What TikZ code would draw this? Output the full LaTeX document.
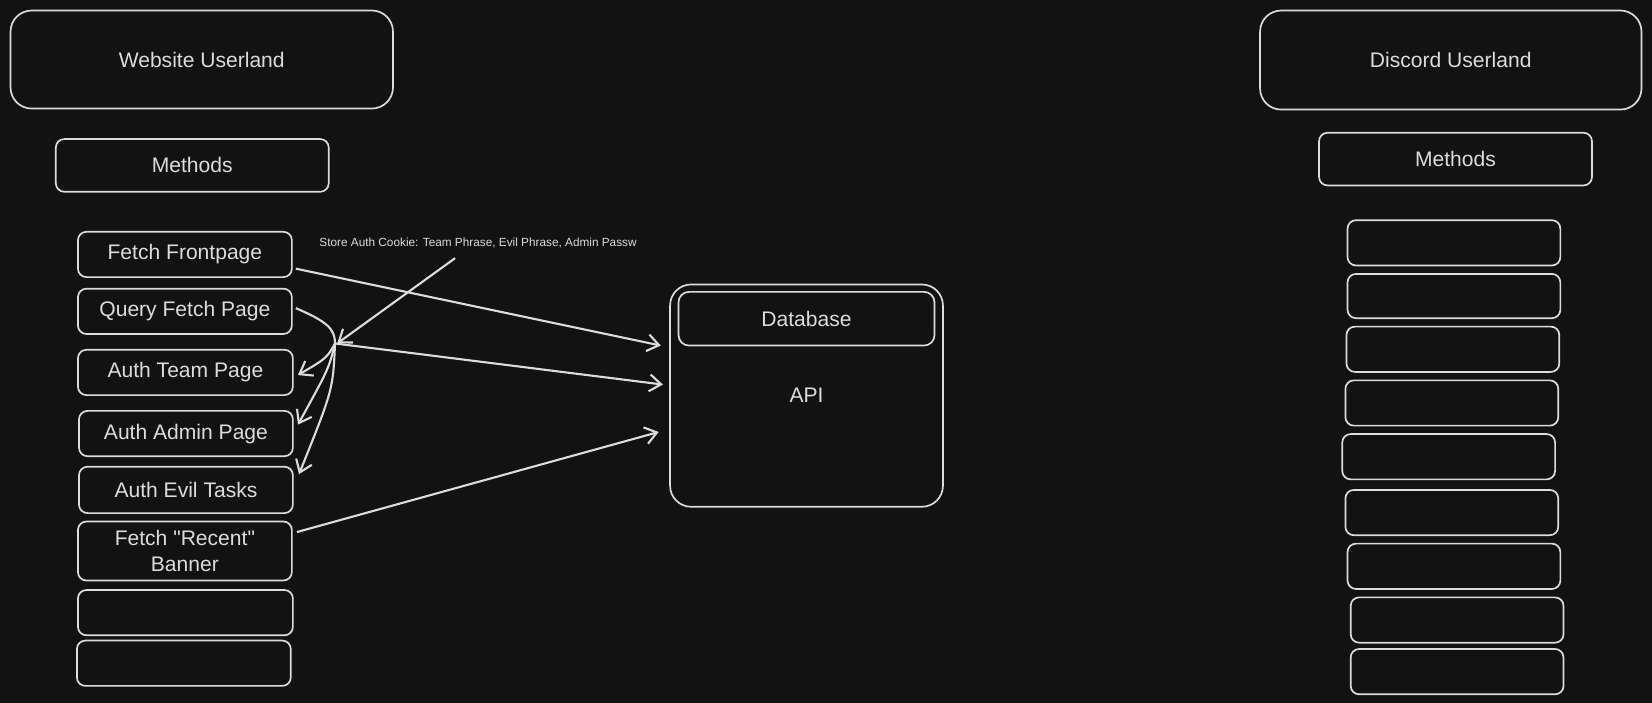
\documentclass[tikz,border=0pt]{standalone}
\usepackage{fontspec}
\setmainfont{Liberation Sans}
\usetikzlibrary{arrows.meta}
\definecolor{bg}{HTML}{121212}
\definecolor{ink}{HTML}{DCDCDC}
\tikzset{
  box/.style={draw=ink, line width=1.6pt, rounded corners=8pt, inner sep=0pt,
    text=ink, font=\fontsize{20}{24}\selectfont, align=center},
  bigbox/.style={box, rounded corners=20pt},
  conn/.style={draw=ink, line width=2pt, -{Straight Barb[length=11pt,width=16pt,line width=2pt]}},
  plain/.style={draw=ink, line width=2pt},
  lbl/.style={text=ink, font=\fontsize{11.2}{13}\selectfont, inner sep=0pt, anchor=west}
}
\begin{document}
\begin{tikzpicture}[x=1pt,y=-1pt]
\fill[bg] (0,0) rectangle (1568,667);
\useasboundingbox (0,0) rectangle (1568,667);
% left column
\node[bigbox, minimum width=363pt, minimum height=93pt] (wu) at (191.5,56.5) {Website Userland};
\node[box, minimum width=259pt, minimum height=50pt] (ml) at (182.5,157) {Methods};
\node[box, minimum width=203pt, minimum height=43pt] (ff) at (175.5,241.5) {Fetch Frontpage};
\node[box, minimum width=203pt, minimum height=43pt] (qfp) at (175.5,295.5) {Query Fetch Page};
\node[box, minimum width=204pt, minimum height=43pt] (team) at (176,353.5) {Auth Team Page};
\node[box, minimum width=203pt, minimum height=43pt] (admin) at (176.5,411.5) {Auth Admin Page};
\node[box, minimum width=203pt, minimum height=44pt] (evil) at (176.5,465) {Auth Evil Tasks};
\node[box, minimum width=203pt, minimum height=56pt] (frb) at (175.5,523) {Fetch \textquotedbl Recent\textquotedbl\\Banner};
\node[box, minimum width=204pt, minimum height=43pt] (le1) at (176,581.5) {};
\node[box, minimum width=203pt, minimum height=43pt] (le2) at (174.5,629.5) {};
% label
\node[lbl] (cookie) at (303,231) {Store Auth Cookie: Team Phrase, Evil Phrase, Admin Passw};
% API
\node[bigbox, minimum width=259pt, minimum height=211pt] (api) at (765.5,375.5) {API};
\node[box, rounded corners=10pt, minimum width=243pt, minimum height=51pt] (db) at (765.5,302.5) {Database};
% right column
\node[bigbox, minimum width=362pt, minimum height=94pt] (du) at (1377,57) {Discord Userland};
\node[box, minimum width=259pt, minimum height=50pt] (mr) at (1381.5,151) {Methods};
\node[box, minimum width=202pt, minimum height=43pt] (r1) at (1380,230.5) {};
\node[box, minimum width=202pt, minimum height=42pt] (r2) at (1380,281) {};
\node[box, minimum width=202pt, minimum height=43pt] (r3) at (1379,331.5) {};
\node[box, minimum width=202pt, minimum height=43pt] (r4) at (1378,382.5) {};
\node[box, minimum width=202pt, minimum height=43pt] (r5) at (1375,433.5) {};
\node[box, minimum width=202pt, minimum height=43pt] (r6) at (1378,486.5) {};
\node[box, minimum width=202pt, minimum height=43pt] (r7) at (1380,537.5) {};
\node[box, minimum width=202pt, minimum height=43pt] (r8) at (1383,588.5) {};
\node[box, minimum width=202pt, minimum height=43pt] (r9) at (1383,637.5) {};
% connectors
\coordinate (J) at (318,326);
\coordinate (cs) at (432,245);
\draw[conn] ([xshift=3pt,yshift=-13.5pt]ff.east) -- ([xshift=-8pt,yshift=47.5pt]api.west);
\draw[plain] ([xshift=3pt,yshift=3pt]qfp.east) .. controls (310,305) and (318,312) .. (J);
\draw[conn] (J) -- ([xshift=-6pt,yshift=10.5pt]api.west);
\draw[conn] (J) .. controls (310,340) .. ([xshift=4pt,yshift=-2.5pt]team.east);
\draw[conn] (J) .. controls (312,350) .. ([xshift=4pt,yshift=8.5pt]admin.east);
\draw[conn] (J) .. controls (316,370) .. ([xshift=5pt,yshift=15pt]evil.east);
\draw[conn] (cs) -- ([xshift=2pt]J);
\draw[conn] ([xshift=4pt,yshift=18pt]frb.east) -- ([xshift=-10pt,yshift=-34.5pt]api.west);
\end{tikzpicture}
\end{document}
